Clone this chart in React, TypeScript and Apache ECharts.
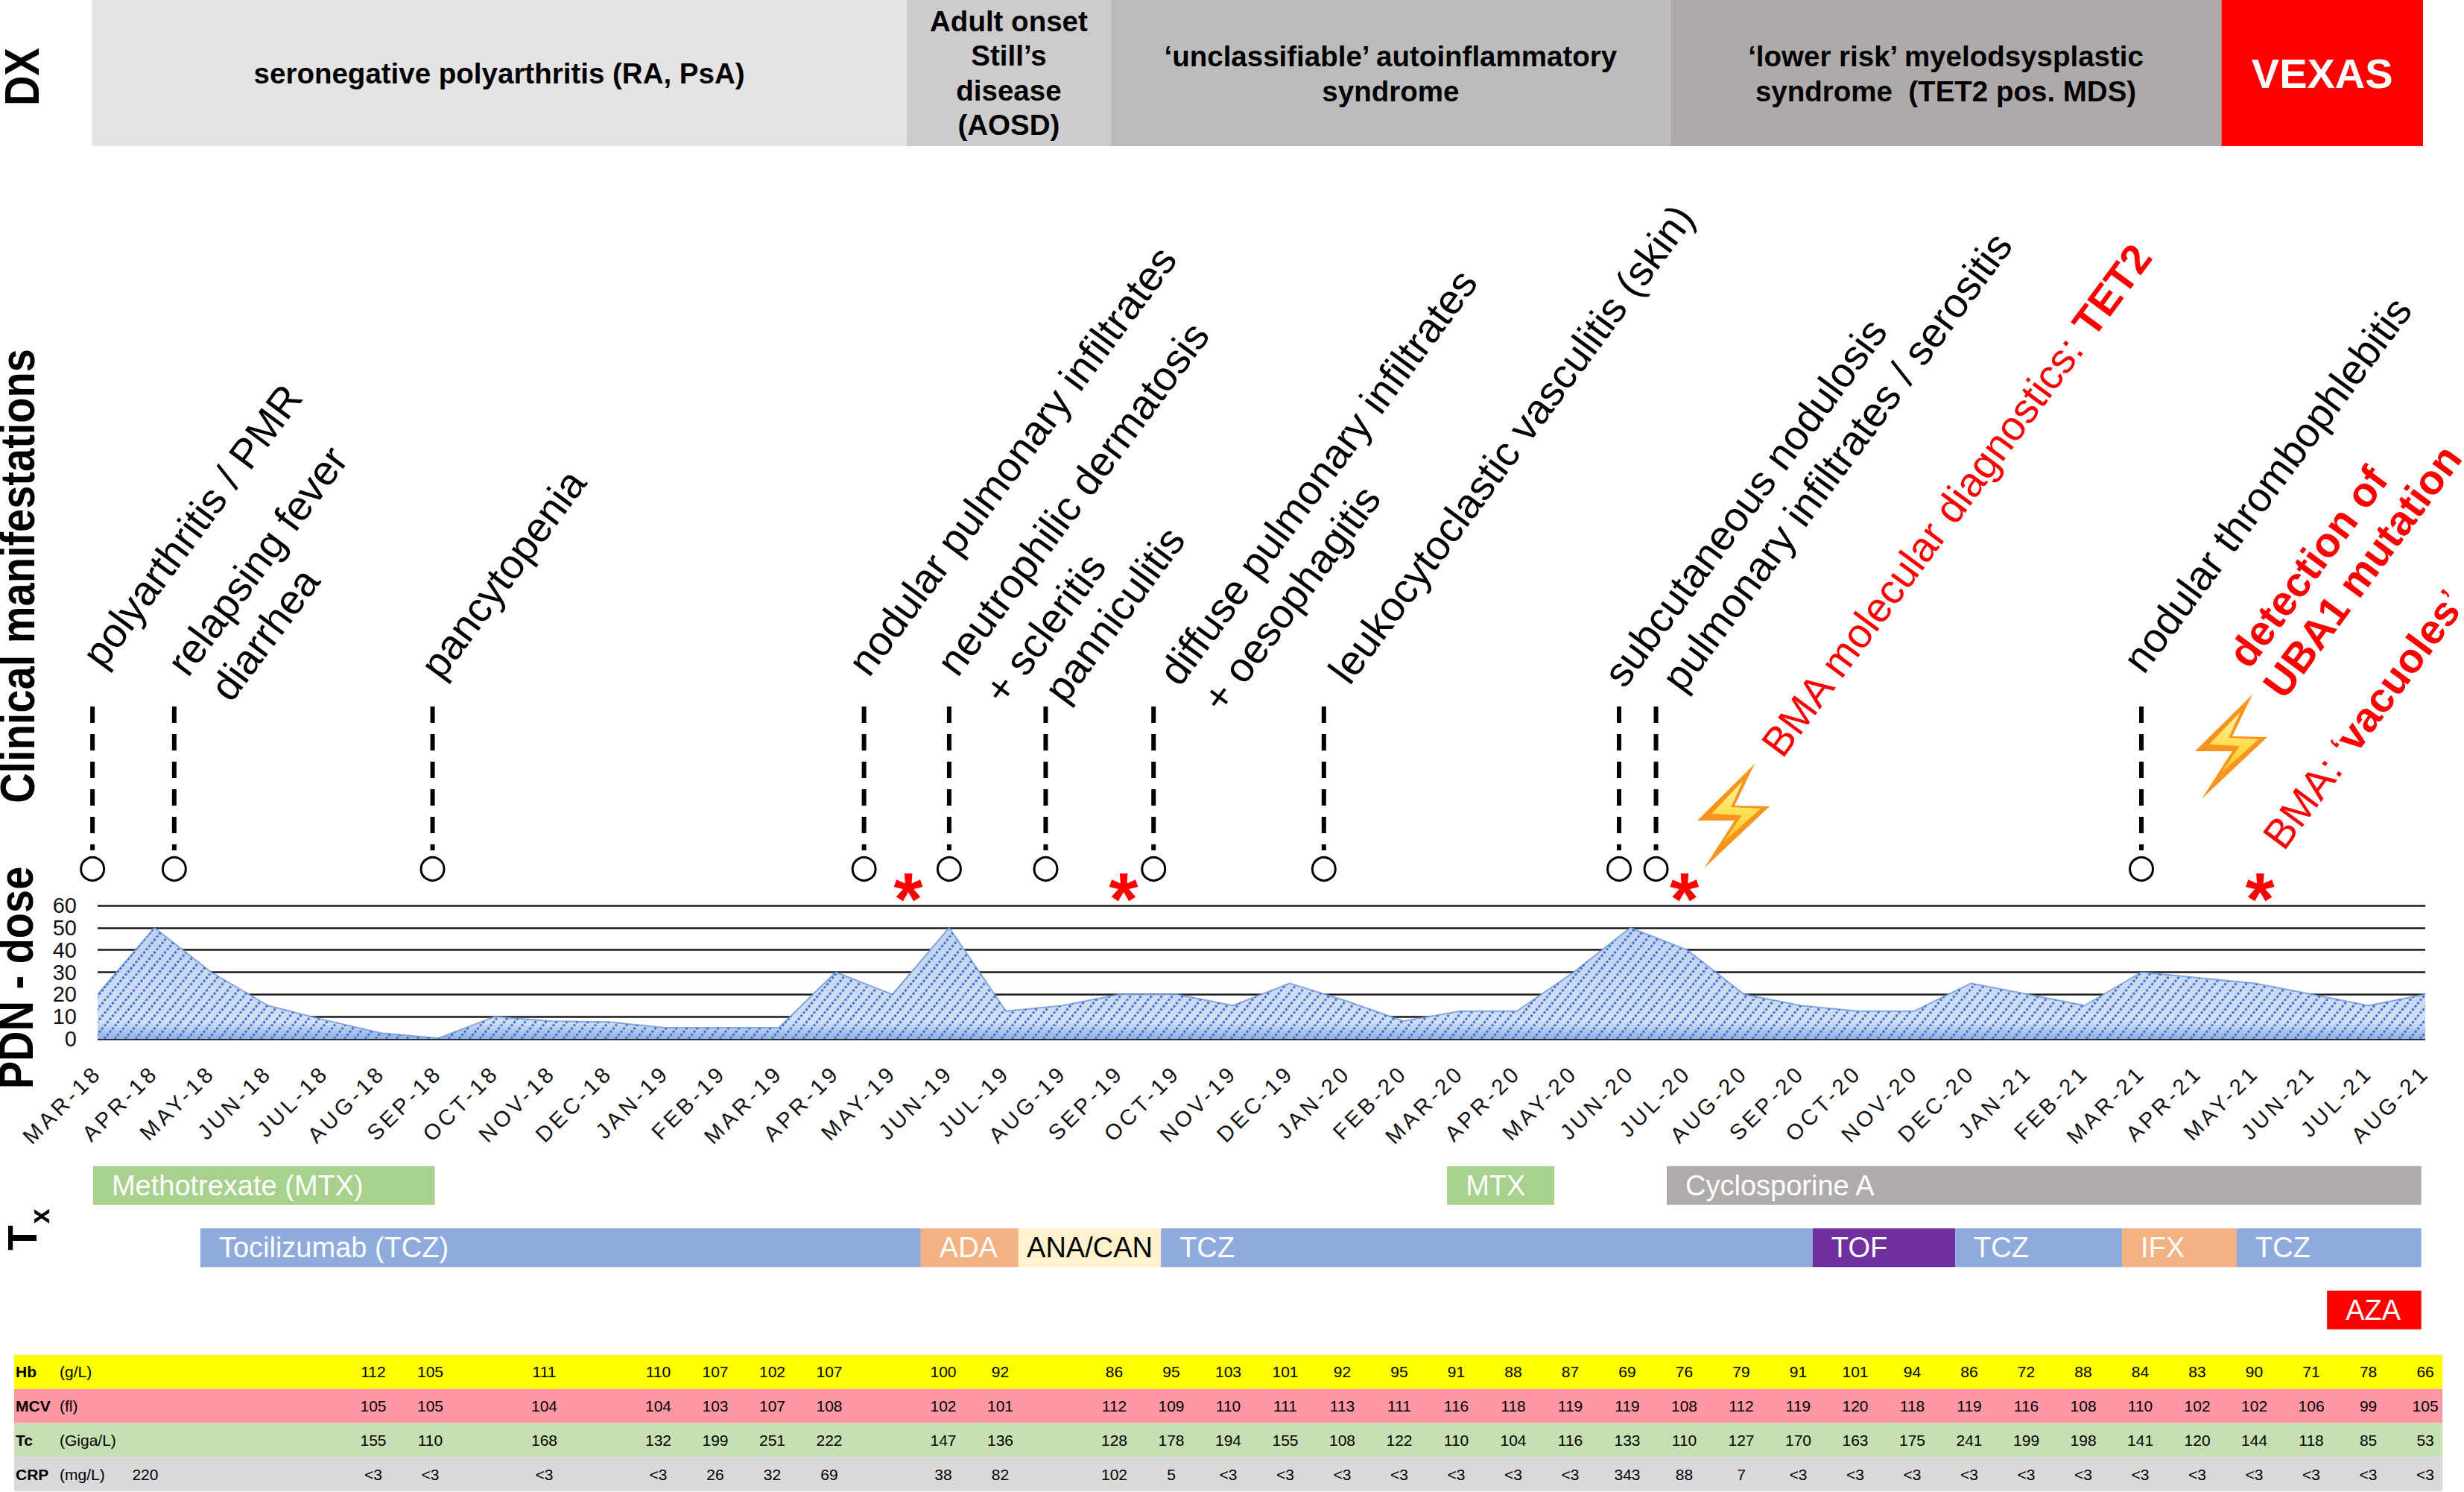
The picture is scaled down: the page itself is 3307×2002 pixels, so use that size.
import React, { useEffect, useRef } from "react";
import * as echarts from "echarts";

const FONT = '"Liberation Sans", Arial, sans-serif';

// ---------- data ----------
const months = ["MAR-18","APR-18","MAY-18","JUN-18","JUL-18","AUG-18","SEP-18","OCT-18","NOV-18","DEC-18","JAN-19","FEB-19","MAR-19","APR-19","MAY-19","JUN-19","JUL-19","AUG-19","SEP-19","OCT-19","NOV-19","DEC-19","JAN-20","FEB-20","MAR-20","APR-20","MAY-20","JUN-20","JUL-20","AUG-20","SEP-20","OCT-20","NOV-20","DEC-20","JAN-21","FEB-21","MAR-21","APR-21","MAY-21","JUN-21","JUL-21","AUG-21"];
const pdnDose = [20,50,30,15,8.5,2.6,0.3,10,8,7.6,5,5,5,30,20,50,12.5,15,20,20,15,25,17,8,12.5,12.5,30,50,40,20,15,12.5,12.5,25,20,15,30,27.5,25,20,15,20];

const dxNames = [
  "seronegative polyarthritis (RA, PsA)",
  "Adult onset\nStill’s\ndisease\n(AOSD)",
  "‘unclassifiable’ autoinflammatory\nsyndrome",
  "‘lower risk’ myelodsysplastic\nsyndrome  (TET2 pos. MDS)",
  "VEXAS",
];
const dxStart = [-0.1, 14.25, 17.85, 27.7, 37.41];
const dxEnd = [14.25, 17.85, 27.7, 37.41, 40.96];

const eventMonths = [-0.09, 1.35, 5.9, 13.5, 15, 16.7, 18.6, 21.6, 26.8, 27.45, 36];
const asteriskMonths = [14.28, 18.07, 27.95, 38.09];

const treatmentRows = ["a", "b", "c"];
const treatmentNames = ["Methotrexate (MTX)","MTX","Cyclosporine A","Tocilizumab (TCZ)","ADA","ANA/CAN","TCZ","TOF","TCZ","IFX","TCZ","AZA"];
const treatmentRow = [0,0,0,1,1,1,1,1,1,1,1,2];
const treatmentStart = [-0.08,23.77,27.64,1.81,14.5,16.22,18.73,30.21,32.72,35.66,37.68,39.27];
const treatmentEnd = [5.94,25.66,40.93,14.5,16.22,18.73,30.21,32.72,35.66,37.68,40.93,40.93];

const labRows = ["Hb", "MCV", "Tc", "CRP"];
const labUnits = ["(g/L)", "(fl)", "(Giga/L)", "(mg/L)"];
const labColumns = [5,6,8,10,11,12,13,15,16,18,19,20,21,22,23,24,25,26,27,28,29,30,31,32,33,34,35,36,37,38,39,40,41];
const hb = [112,105,111,110,107,102,107,100,92,86,95,103,101,92,95,91,88,87,69,76,79,91,101,94,86,72,88,84,83,90,71,78,66];
const mcv = [105,105,104,104,103,107,108,102,101,112,109,110,111,113,111,116,118,119,119,108,112,119,120,118,119,116,108,110,102,102,106,99,105];
const tc = [155,110,168,132,199,251,222,147,136,128,178,194,155,108,122,110,104,116,133,110,127,170,163,175,241,199,198,141,120,144,118,85,53];
const crp = ["<3","<3","<3","<3","26","32","69","38","82","102","5","<3","<3","<3","<3","<3","<3","<3","343","88","7","<3","<3","<3","<3","<3","<3","<3","<3","<3","<3","<3","<3"];
const crpExtraColumn = 1;
const crpExtraValue = "220";

// ---------- styles ----------
const dxColors = ["#e5e3e4", "#cdcbcc", "#bcbcbc", "#aeaaaa", "#ff0000"];
const rowColors = ["#ffff00", "#ff98a4", "#c6e0b4", "#d9d9d9"];
const treatmentColors: Record<string, string> = {
  "Methotrexate (MTX)": "#a9d18e", MTX: "#a9d18e", "Cyclosporine A": "#afabab",
  "Tocilizumab (TCZ)": "#8faadc", TCZ: "#8faadc", ADA: "#f4b183", IFX: "#f4b183",
  "ANA/CAN": "#fff2cc", TOF: "#7030a0", AZA: "#ff0000",
};
const R = (53.5 * Math.PI) / 180;
const annotations: any[] = [
  { t: "polyarthritis / PMR", x: 123, y: 888 },
  { t: "relapsing fever", x: 237, y: 899 },
  { t: "diarrhea", x: 295, y: 933 },
  { t: "pancytopenia", x: 577, y: 903 },
  { t: "nodular pulmonary infiltrates", x: 1151, y: 899 },
  { t: "neutrophilic dermatosis", x: 1270, y: 899 },
  { t: "+ scleritis", x: 1333, y: 937 },
  { t: "panniculitis", x: 1414, y: 935 },
  { t: "diffuse pulmonary infiltrates", x: 1568, y: 912 },
  { t: "+ oesophagitis", x: 1626, y: 948 },
  { t: "leukocytoclastic vasculitis (skin)", x: 1796, y: 910 },
  { t: "subcutaneous nodulosis", x: 2165, y: 914 },
  { t: "pulmonary infiltrates / serositis", x: 2243, y: 920 },
  { t: "nodular thrombophlebitis", x: 2862, y: 895 },
  { t: "detection of", x: 3003, y: 888, fill: "#ff0000", bold: true },
  { t: "UBA1 mutation", x: 3050, y: 929, fill: "#ff0000", bold: true },
  { rich: "{a|BMA molecular diagnostics: }{b|TET2}", x: 2377, y: 1008, fill: "#ff0000" },
  { rich: "{a|BMA: ‘}{b|vacuoles}{a|’}", x: 3050, y: 1132, fill: "#ff0000" },
];
const sideLabels = [
  { t: "DX", x: 30, y: 103 },
  { t: "Clinical manifestations", x: 24, y: 773 },
  { t: "PDN - dose", x: 22, y: 1312 },
];
const AXIS_FONT = 29.5;

function annotationGraphic(a: any) {
  const fontN = `55.6px ${FONT}`;
  const style: any = { fill: a.fill || "#000", textVerticalAlign: "middle", verticalAlign: "middle", textAlign: "left", align: "left" };
  if (a.rich) {
    style.text = a.rich;
    style.rich = {
      a: { font: fontN, fill: a.fill, fontFamily: FONT, fontSize: 55.6 },
      b: { font: `bold 55.6px ${FONT}`, fill: a.fill, fontFamily: FONT, fontSize: 55.6, fontWeight: "bold" },
    };
  } else {
    style.text = a.t;
    style.font = a.bold ? `bold 56px ${FONT}` : fontN;
  }
  return { type: "text", x: a.x, y: a.y, rotation: R, style, z: 20 };
}

function bolt(dx: number, dy: number) {
  const shift = (p: number[][]) => p.map(([x, y]) => [x + dx, y + dy]);
  const outer = [[2355,1025],[2278,1101],[2328,1101],[2287,1165],[2375,1082],[2328,1081]];
  const inner = [[2339,1048],[2297,1092],[2338,1094],[2313,1130],[2363,1085],[2323,1083]];
  return [
    { type: "polygon", z: 20, shape: { points: shift(outer) }, style: { fill: "#f7941d" } },
    { type: "polygon", z: 21, shape: { points: shift(inner) }, style: { fill: new echarts.graphic.LinearGradient(0, 0, 0, 1, [
      { offset: 0, color: "#fff3a8" }, { offset: 0.55, color: "#ffdf4d" }, { offset: 1, color: "#ffc22e" }]) } },
  ];
}

function hatchPattern() {
  const c = document.createElement("canvas");
  c.width = 14; c.height = 17;
  const g = c.getContext("2d")!;
  g.strokeStyle = "rgba(58,112,206,0.95)";
  g.lineWidth = 3;
  g.setLineDash([3.2, 2.3]);
  for (const o of [-14, 0, 14]) {
    g.beginPath(); g.moveTo(o, 17); g.lineTo(o + 14, 0); g.stroke();
  }
  return { image: c.toDataURL(), repeat: "repeat", imageWidth: 14, imageHeight: 17 };
}

const txt = (x: number, y: number, text: string, font: string, fill: string, align = "center") => ({
  type: "text", x, y,
  style: { text, font, fill, textAlign: align, align, textVerticalAlign: "middle", verticalAlign: "middle" },
});

export default function App() {
  const ref = useRef<HTMLDivElement>(null);
  useEffect(() => {
    document.body.style.margin = "0";
    const chart = echarts.init(ref.current!, undefined, { renderer: "svg" });
    const timeline = { type: "value", min: -1, max: 41, show: false };
    const tableX = { type: "value", min: -1.3, max: 41.3, show: false };
    const unit = { type: "value", min: 0, max: 1, show: false };

    const dxData = dxNames.map((n, i) => [dxStart[i], dxEnd[i], n, i]);
    const treatmentData = treatmentNames.map((n, i) => [treatmentStart[i], treatmentEnd[i], treatmentRow[i], n]);
    const labSeries = [hb.map(String), mcv.map(String), tc.map(String), crp];
    const labData: any[] = [];
    labRows.forEach((_, r) => labColumns.forEach((c, i) => labData.push([c, r, labSeries[r][i]])));
    labData.push([crpExtraColumn, 3, crpExtraValue]);

    chart.setOption({
      animation: false,
      backgroundColor: "#fff",
      textStyle: { fontFamily: FONT },
      grid: [
        { left: 131, width: 3124, top: 1215, height: 179 },
        { left: 54.8, width: 3200.2, top: 0, height: 196 },
        { left: 54.8, width: 3200.2, top: 948, height: 218 },
        { left: 54.8, width: 3200.2, top: 1549, height: 250.5 },
        { left: 19, width: 3259, top: 1818, height: 183 },
      ],
      xAxis: [
        {
          type: "category", data: months, boundaryGap: false, gridIndex: 0,
          axisLine: { show: false }, axisTick: { show: false },
          axisLabel: { interval: 0, rotate: 45, margin: 40, fontSize: AXIS_FONT, color: "#111", fontFamily: FONT },
        },
        { ...timeline, gridIndex: 1 }, { ...timeline, gridIndex: 2 }, { ...timeline, gridIndex: 3 }, { ...tableX, gridIndex: 4 },
      ],
      yAxis: [
        {
          type: "value", min: 0, max: 60, interval: 10, gridIndex: 0,
          axisLine: { show: false }, axisTick: { show: false },
          axisLabel: { fontSize: 29, color: "#111", margin: 28, fontFamily: FONT },
          splitLine: { lineStyle: { color: "#1a1a1a", width: 2.5 } },
        },
        { ...unit, gridIndex: 1 }, { ...unit, gridIndex: 2 },
        { type: "category", data: treatmentRows, inverse: true, show: false, gridIndex: 3 },
        { type: "category", data: labRows, inverse: true, show: false, gridIndex: 4 },
      ],
      series: [
        {
          type: "line", name: "PDN base", xAxisIndex: 0, yAxisIndex: 0, data: pdnDose, symbol: "none", z: 3,
          lineStyle: { color: "#6f95d8", width: 2, opacity: 0.8 },
          areaStyle: { opacity: 1, color: new echarts.graphic.LinearGradient(0, 0, 0, 1, [
            { offset: 0, color: "#c0d2ef" }, { offset: 0.85, color: "#d2dff4" }, { offset: 1, color: "#8fb0e4" }]) },
        },
        {
          type: "line", name: "PDN hatch", xAxisIndex: 0, yAxisIndex: 0, data: pdnDose, symbol: "none", z: 4,
          lineStyle: { width: 0 }, areaStyle: { opacity: 1, color: hatchPattern() },
        },
        {
          type: "custom", name: "DX", xAxisIndex: 1, yAxisIndex: 1, clip: false, data: dxData, silent: true,
          renderItem: (_: any, api: any) => {
            const a = api.coord([api.value(0), 1]);
            const b = api.coord([api.value(1), 0]);
            const i = api.value(3) as number;
            const name = dxNames[i];
            const lines = name.split("\n");
            const vexas = name === "VEXAS";
            const font = vexas ? `bold 56px ${FONT}` : `bold 38.5px ${FONT}`;
            const cx = (a[0] + b[0]) / 2;
            const cy = (a[1] + b[1]) / 2 + (lines.length === 2 ? 1 : 0);
            const lh = 46.5;
            return {
              type: "group",
              children: [
                { type: "rect", shape: { x: a[0], y: a[1], width: b[0] - a[0], height: b[1] - a[1] }, style: { fill: dxColors[i] } },
                ...lines.map((l, k) => txt(cx, cy + (k - (lines.length - 1) / 2) * lh, l, font, vexas ? "#fff" : "#000")),
              ],
            };
          },
        },
        {
          type: "custom", name: "Events", xAxisIndex: 2, yAxisIndex: 2, clip: false, data: eventMonths.map((m) => [m]), silent: true,
          renderItem: (_: any, api: any) => {
            const top = api.coord([api.value(0), 1]);
            const c = api.coord([api.value(0), 0]);
            return {
              type: "group",
              children: [
                { type: "line", shape: { x1: top[0], y1: top[1], x2: c[0], y2: c[1] - 25 }, style: { stroke: "#000", lineWidth: 6, lineDash: [22, 15], fill: "none" } },
                { type: "circle", shape: { cx: c[0], cy: c[1], r: 15.5 }, style: { stroke: "#000", lineWidth: 3, fill: "#fff" } },
              ],
            };
          },
        },
        {
          type: "custom", name: "Asterisks", xAxisIndex: 2, yAxisIndex: 2, clip: false, data: asteriskMonths.map((m) => [m]), silent: true,
          renderItem: (_: any, api: any) => {
            const c = api.coord([api.value(0), 0]);
            return txt(c[0], c[1] + 40, "*", `bold 100px ${FONT}`, "#ff0000");
          },
        },
        {
          type: "custom", name: "Treatments", xAxisIndex: 3, yAxisIndex: 3, clip: false, data: treatmentData, silent: true,
          renderItem: (_: any, api: any) => {
            const a = api.coord([api.value(0), api.value(2)]);
            const b = api.coord([api.value(1), api.value(2)]);
            const name = treatmentNames[_.dataIndex];
            const dark = name === "ANA/CAN";
            return {
              type: "group",
              children: [
                { type: "rect", shape: { x: a[0], y: a[1] - 26, width: b[0] - a[0], height: 52 }, style: { fill: treatmentColors[name] } },
                dark
                  ? txt((a[0] + b[0]) / 2, a[1], name, `38px ${FONT}`, "#000")
                  : txt(a[0] + 25, a[1], name, `38px ${FONT}`, "#fff", "left"),
              ],
            };
          },
        },
        {
          type: "custom", name: "Lab rows", xAxisIndex: 4, yAxisIndex: 4, clip: false, data: labRows.map((_, r) => [r]), silent: true, z: 2,
          renderItem: (_: any, api: any) => {
            const r = api.value(0) as number;
            const c = api.coord([-1.3, r]);
            const e = api.coord([41.3, r]);
            const h = api.size([0, 1])[1];
            return {
              type: "group",
              children: [
                { type: "rect", shape: { x: c[0], y: c[1] - h / 2, width: e[0] - c[0], height: h }, style: { fill: rowColors[r] } },
                txt(21, c[1], labRows[r], `bold 21px ${FONT}`, "#000", "left"),
                txt(80, c[1], labUnits[r], `21px ${FONT}`, "#000", "left"),
              ],
            };
          },
        },
        {
          type: "custom", name: "Lab values", xAxisIndex: 4, yAxisIndex: 4, clip: false, data: labData, silent: true, z: 3,
          renderItem: (_: any, api: any) => {
            const c = api.coord([api.value(0), api.value(1)]);
            return txt(c[0], c[1], labData[_.dataIndex][2], `21px ${FONT}`, "#000");
          },
        },
      ],
      graphic: [
        ...annotations.map(annotationGraphic),
        ...bolt(0, 0),
        ...bolt(668, -93),
        ...sideLabels.map((s) => ({
          type: "text", x: s.x, y: s.y, rotation: Math.PI / 2, scaleY: 1.15, z: 20,
          style: { text: s.t, font: `bold 56px ${FONT}`, fill: "#000", textAlign: "center", align: "center", textVerticalAlign: "middle", verticalAlign: "middle" },
        })),
        { type: "text", x: 30, y: 1661, rotation: Math.PI / 2, z: 20, style: { text: "T", font: `bold 55px ${FONT}`, fill: "#000", textAlign: "center", align: "center", textVerticalAlign: "middle", verticalAlign: "middle" } },
        { type: "text", x: 53, y: 1632, rotation: Math.PI / 2, z: 20, style: { text: "x", font: `bold 36px ${FONT}`, fill: "#000", textAlign: "center", align: "center", textVerticalAlign: "middle", verticalAlign: "middle" } },
      ],
    });
    return () => chart.dispose();
  }, []);
  return (
    <>
      <style>{`svg text[style*="${AXIS_FONT}px"]{letter-spacing:4.5px}`}</style>
      <div ref={ref} style={{ position: "absolute", left: 0, top: 0, width: 3307, height: 2002 }} />
    </>
  );
}
